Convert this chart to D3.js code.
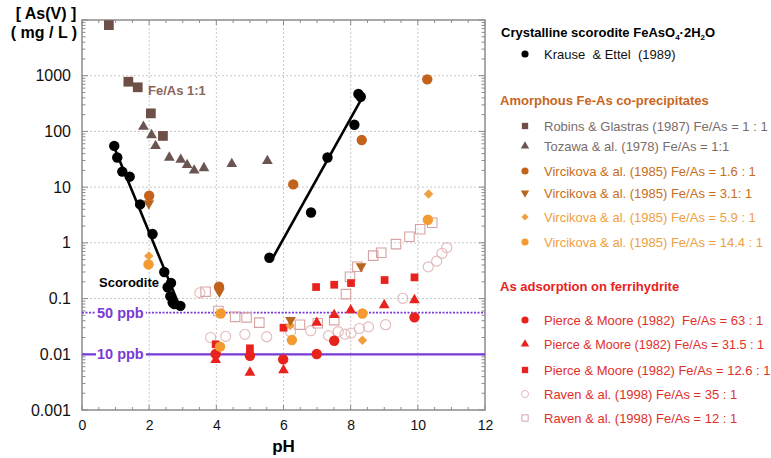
<!DOCTYPE html>
<html><head><meta charset="utf-8">
<script src="https://cdn.jsdelivr.net/npm/d3@7"></script>
<style>body{margin:0;background:#fff}svg{display:block;font-family:"Liberation Sans",Arial,Helvetica,sans-serif}</style>
</head><body><svg id="c" width="771" height="458"></svg>
<script>
// ---------- data (pH, [As(V)] mg/L) ----------
const krause = [[0.96,55],[1.05,34],[1.2,19],[1.42,15.4],[1.73,4.9],[2.1,1.44],[2.45,0.30],[2.55,0.16],[2.65,0.19],[2.63,0.11],[2.7,0.085],[2.75,0.08],[2.93,0.074],
  [5.58,0.54],[6.82,3.5],[7.31,34],[8.11,132],[8.23,470],[8.3,420]];
const fitLow = [[0.93,57],[2.87,0.082]];
const fitHigh = [[5.66,0.51],[8.36,420]];
const robins = [[0.8,8100],[1.38,780],[1.66,620],[2.05,211],[2.41,83]];
const tozawa = [[1.83,122],[2.07,86],[2.19,55],[2.6,34],[2.94,31],[3.13,25],[3.34,20],[3.63,22],[4.46,26],[5.52,29.5]];
const vir16 = [[2.0,7.0],[4.08,0.163],[6.29,11.2],[8.33,70],[10.28,860]];
const vir31 = [[1.99,5.1],[4.09,0.133],[6.21,0.041],[8.31,0.38]];
const vir59 = [[1.99,0.58],[6.2,0.033],[8.35,0.0178],[10.32,7.5]];
const vir144 = [[1.98,0.41],[4.13,0.054],[4.11,0.0137],[6.25,0.018],[8.35,0.054],[10.3,2.6]];
const pm63 = [[3.98,0.0101],[5.0,0.0094],[5.99,0.0081],[6.99,0.0101],[7.51,0.0175],[9.9,0.046]];
const pm315 = [[3.98,0.0079],[5.0,0.0047],[6.0,0.0052],[6.99,0.037],[7.51,0.051],[8.0,0.062],[9.0,0.0765],[9.9,0.094]];
const pm126 = [[3.98,0.0151],[5.0,0.0128],[6.0,0.030],[6.97,0.161],[7.51,0.177],[8.01,0.19],[9.01,0.215],[9.9,0.24]];
const raven35 = [[3.51,0.127],[3.83,0.020],[4.28,0.021],[4.85,0.0228],[5.5,0.0207],[6.21,0.0255],[6.81,0.0265],[7.34,0.0216],[7.63,0.0255],[7.83,0.023],[8.01,0.024],[8.26,0.029],[8.53,0.031],[9.04,0.034],[9.55,0.101],[10.31,0.37],[10.56,0.47],[10.72,0.65],[10.86,0.82]];
const raven12 = [[3.68,0.133],[4.06,0.060],[4.56,0.047],[4.9,0.046],[5.28,0.037],[6.49,0.034],[7.02,0.036],[7.51,0.041],[7.86,0.12],[7.98,0.247],[8.2,0.373],[8.67,0.59],[8.91,0.665],[9.35,0.95],[9.75,1.29],[10.07,1.75],[10.43,2.3]];
const limits = [{label:"50 ppb", value:0.056, dash:true},{label:"10 ppb", value:0.01, dash:false}];
const xTicks = [0,2,4,6,8,10,12];
const yTicks = [0.001,0.01,0.1,1,10,100,1000];
const yTickLabels = ["0.001","0.01","0.1","1","10","100","1000"];

// ---------- setup ----------
const svg = d3.select("#c");
const x = d3.scaleLinear().domain([0,12]).range([82,485]);
const y = d3.scaleLog().domain([0.001,10000]).range([410,20]);
const L = 82, R = 485, T = 20, B = 410;

const C = {
  black:"#000", robins:"#6e4f48", tozawa:"#6a5552", v16:"#c3631b", v31:"#b8661f", v59:"#f0a040", v144:"#f39a30",
  red:"#e8231d", r35:"#e3b9b9", r12:"#d9a2a2", purple:"#7a3ad6", grid:"#c8c8c8", frame:"#8c8c8c"
};

// grid
const g = svg.append("g");
g.selectAll(".hg").data(yTicks.slice(1)).enter().append("line")
  .attr("x1",L).attr("x2",R).attr("y1",d=>y(d)).attr("y2",d=>y(d))
  .attr("stroke",C.grid).attr("stroke-width",1).attr("stroke-dasharray","2,2");
g.selectAll(".vg").data(xTicks.slice(1,-1)).enter().append("line")
  .attr("y1",T).attr("y2",B).attr("x1",d=>x(d)).attr("x2",d=>x(d))
  .attr("stroke",C.grid).attr("stroke-width",1).attr("stroke-dasharray","2,2");

// minor ticks on left & right
const minors = [];
for (let e=-3;e<4;e++) for (let m=1;m<10;m++) minors.push({v:m*Math.pow(10,e), major:m===1});
minors.push({v:10000,major:true});
[L,R].forEach((ax,i)=>{
  const dir = i===0?1:-1;
  g.selectAll(null).data(minors).enter().append("line")
   .attr("x1",ax).attr("x2",d=>ax+dir*(d.major?6:3.5))
   .attr("y1",d=>y(d.v)).attr("y2",d=>y(d.v))
   .attr("stroke",C.frame).attr("stroke-width",1);
});
// x minor ticks top & bottom
const xm = d3.range(0,12.01,0.5);
[T,B].forEach((ay,i)=>{
  const dir = i===0?1:-1;
  g.selectAll(null).data(xm).enter().append("line")
   .attr("y1",ay).attr("y2",d=>ay+dir*(d%2===0?5:3))
   .attr("x1",d=>x(d)).attr("x2",d=>x(d))
   .attr("stroke",C.frame).attr("stroke-width",1);
});

// axes labels
const yAxis = d3.axisLeft(y).tickValues(yTicks).tickFormat((d,i)=>yTickLabels[i]).tickSize(0).tickPadding(11);
const ya = svg.append("g").attr("transform",`translate(${L},0)`).call(yAxis);
ya.select(".domain").remove();
ya.selectAll("text").attr("font-size",16).attr("fill","#111").attr("font-family","Liberation Sans, Arial, sans-serif");
const xAxis = d3.axisBottom(x).tickValues(xTicks).tickSize(0).tickPadding(10);
const xa = svg.append("g").attr("transform",`translate(0,${B})`).call(xAxis);
xa.select(".domain").remove();
xa.selectAll("text").attr("font-size",14).attr("fill","#111").attr("font-family","Liberation Sans, Arial, sans-serif");

// frame
svg.append("rect").attr("x",L).attr("y",T).attr("width",R-L).attr("height",B-T)
  .attr("fill","none").attr("stroke",C.frame).attr("stroke-width",1.5);

// titles
svg.append("text").attr("x",46).attr("y",19).attr("text-anchor","middle").attr("font-weight","bold").attr("font-size",16).text("[ As(V) ]");
svg.append("text").attr("x",44).attr("y",38).attr("text-anchor","middle").attr("font-weight","bold").attr("font-size",16).text("( mg / L )");
svg.append("text").attr("x",x(6)).attr("y",452).attr("text-anchor","middle").attr("font-weight","bold").attr("font-size",17).text("pH");

// limit lines
limits.forEach(l=>{
  const yy = y(l.value);
  svg.append("line").attr("x1",L).attr("x2",R).attr("y1",yy).attr("y2",yy)
    .attr("stroke",C.purple).attr("stroke-width",l.dash?1.8:2.2).attr("stroke-dasharray",l.dash?"2,1.5":null);
  const t = svg.append("text").attr("x",97).attr("y",yy+5).attr("font-weight","bold").attr("font-size",14.5)
    .attr("fill",C.purple).text(l.label);
  const bb = t.node().getBBox();
  svg.insert("rect", () => t.node()).attr("x",bb.x-1).attr("y",yy-3).attr("width",bb.width+3).attr("height",6).attr("fill","#fff");
});

// symbol helpers
function sym(type, size){
  if (type==="circle") return d3.symbol(d3.symbolCircle, size)();
  if (type==="square" || type==="diamond") return d3.symbol(d3.symbolSquare, size)();
  return d3.symbol(d3.symbolTriangle, size)();
}
function rot(type){ return type==="tridown"?" rotate(180)": type==="diamond"?" rotate(45)":""; }
function plot(data, type, size, fill, stroke, sw){
  svg.append("g").selectAll("path").data(data).enter().append("path")
    .attr("d", sym(type,size))
    .attr("transform", d=>`translate(${x(d[0])},${y(d[1])})${rot(type)}`)
    .attr("fill", fill).attr("stroke", stroke||"none").attr("stroke-width", sw||0);
}

plot(raven35,"circle",80,"none",C.r35,1.1);
plot(raven12,"square",90,"none",C.r12,1.1);
plot(pm126,"square",60,C.red);
plot(pm315,"tri",50,C.red);
plot(pm63,"circle",85,C.red);
plot(vir144,"circle",85,C.v144);
plot(vir59,"diamond",45,C.v59);
plot(vir31,"tridown",50,C.v31);
plot(vir16,"circle",85,C.v16);
plot(tozawa,"tri",50,C.tozawa);
plot(robins,"square",95,C.robins);

// fit lines
const line = d3.line().x(d=>x(d[0])).y(d=>y(d[1]));
[fitLow,fitHigh].forEach(f=>svg.append("path").attr("d",line(f)).attr("fill","none").attr("stroke","#000").attr("stroke-width",2.6));
plot(krause,"circle",85,C.black);

// annotations
svg.append("text").attr("x",148).attr("y",95).attr("font-weight","bold").attr("font-size",13).attr("fill","#8a6558").text("Fe/As 1:1");
svg.append("text").attr("x",99).attr("y",287).attr("font-weight","bold").attr("font-size",13).attr("fill","#000").text("Scorodite");

// ---------- legend ----------
const h0 = svg.append("text").attr("x",501).attr("y",37).attr("font-weight","bold").attr("font-size",13).attr("fill","#000");
h0.append("tspan").text("Crystalline scorodite FeAsO");
h0.append("tspan").attr("font-size",8).attr("dy",3).text("4");
h0.append("tspan").attr("dy",-3).text("·2H");
h0.append("tspan").attr("font-size",8).attr("dy",3).text("2");
h0.append("tspan").attr("dy",-3).text("O");
const headers = [
  {y:105, color:"#c8661e", text:"Amorphous Fe-As co-precipitates"},
  {y:291, color:"#e8231d", text:"As adsorption on ferrihydrite"}
];
headers.forEach(h=>svg.append("text").attr("x",500).attr("y",h.y).attr("font-weight","bold").attr("font-size",13).attr("fill",h.color).text(h.text));

const legendItems = [
  {label:"Krause  & Ettel  (1989)", type:"circle", fill:C.black, tc:"#111", yy:54},
  {label:"Robins & Glastras (1987) Fe/As = 1 : 1", type:"square", fill:C.robins, tc:"#7a6d6a", yy:126},
  {label:"Tozawa & al. (1978) Fe/As = 1:1", type:"tri", fill:C.tozawa, tc:"#7a6d6a", yy:146},
  {label:"Vircikova & al. (1985) Fe/As = 1.6 : 1", type:"circle", fill:C.v16, tc:"#c66e22", yy:171},
  {label:"Vircikova & al. (1985) Fe/As = 3.1: 1", type:"tridown", fill:C.v31, tc:"#c66e22", yy:193},
  {label:"Vircikova & al. (1985) Fe/As = 5.9 : 1", type:"diamond", fill:C.v59, tc:"#eea042", yy:217},
  {label:"Vircikova & al. (1985) Fe/As = 14.4 : 1", type:"circle", fill:C.v144, tc:"#eea042", yy:242},
  {label:"Pierce & Moore (1982)  Fe/As = 63 : 1", type:"circle", fill:C.red, tc:"#e0302a", yy:320},
  {label:"Pierce & Moore (1982) Fe/As = 31.5 : 1", type:"tri", fill:C.red, tc:"#e0302a", yy:344, fit:220},
  {label:"Pierce & Moore (1982) Fe/As = 12.6 : 1", type:"square", fill:C.red, tc:"#e0302a", yy:370},
  {label:"Raven & al. (1998) Fe/As = 35 : 1", type:"circle", fill:"none", stroke:C.r35, tc:"#e0302a", yy:394},
  {label:"Raven & al. (1998) Fe/As = 12 : 1", type:"square", fill:"none", stroke:C.r12, tc:"#e0302a", yy:418}
];
const lg = svg.append("g").selectAll("g").data(legendItems).enter().append("g");
lg.append("path").attr("d",d=>sym(d.type, d.type==="tri"||d.type==="tridown"?30:d.type==="diamond"?26:40))
  .attr("transform",d=>`translate(525,${d.yy})${rot(d.type)}`)
  .attr("fill",d=>d.fill).attr("stroke",d=>d.stroke||"none").attr("stroke-width",1);
const lt = lg.append("text").attr("x",544).attr("y",d=>d.yy+4.5).attr("font-size",13).attr("fill",d=>d.tc).style("white-space","pre").text(d=>d.label);
lt.filter(d=>d.fit).attr("textLength",d=>d.fit).attr("lengthAdjust","spacingAndGlyphs");
</script></body></html>
